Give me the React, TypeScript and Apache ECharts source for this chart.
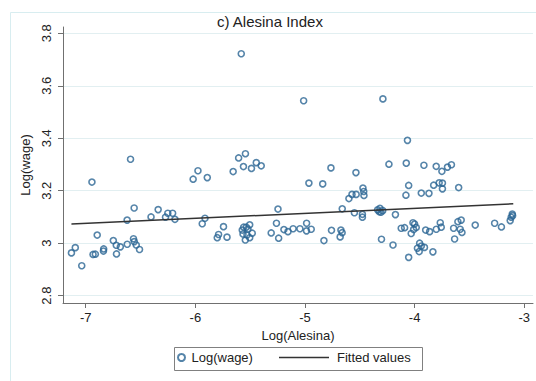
import React, { useEffect, useRef } from "react";
import * as echarts from "echarts";

const logAlesina = [
  -7.130, -7.095, -7.036, -6.943, -6.933, -6.912, -6.895, -6.838, -6.836, -6.748,
  -6.721, -6.719, -6.684, -6.621, -6.622, -6.591, -6.564, -6.557, -6.558, -6.539,
  -6.509, -6.404, -6.339, -6.272, -6.251, -6.207, -6.186, -6.020, -5.976, -5.891,
  -5.937, -5.912, -5.800, -5.788, -5.743, -5.711, -5.655, -5.605, -5.543, -5.561,
  -5.488, -5.444, -5.399, -5.581, -5.559, -5.535, -5.504, -5.520, -5.565, -5.529,
  -5.481, -5.544, -5.504, -5.572, -5.246, -5.260, -5.308, -5.240, -5.192, -5.155,
  -5.108, -5.046, -5.012, -4.985, -4.986, -4.943, -4.964, -4.838, -4.827, -4.763,
  -4.758, -4.672, -4.661, -4.679, -4.660, -4.599, -4.571, -4.533, -4.535, -4.471,
  -4.464, -4.462, -4.549, -4.476, -4.476, -4.337, -4.316, -4.291, -4.307, -4.322,
  -4.289, -4.302, -4.197, -4.175, -4.234, -4.076, -4.065, -4.054, -4.079, -3.939,
  -3.869, -3.915, -3.826, -3.776, -3.746, -3.746, -3.803, -3.751, -3.700, -3.664,
  -3.598, -4.122, -4.091, -4.015, -4.000, -3.985, -4.009, -4.031, -3.899, -3.863,
  -3.802, -3.766, -3.757, -3.644, -3.605, -3.575, -3.584, -3.568, -3.635, -3.954,
  -3.939, -3.910, -3.974, -3.958, -3.833, -4.054, -3.447, -3.270, -3.208, -3.109,
  -3.119, -3.128, -3.106,
];

const logWage = [
  2.963, 2.983, 2.914, 3.233, 2.957, 2.958, 3.031, 2.970, 2.978, 3.010,
  2.992, 2.959, 2.986, 2.996, 3.088, 3.320, 3.017, 3.006, 3.134, 2.993,
  2.976, 3.100, 3.128, 3.099, 3.114, 3.114, 3.091, 3.244, 3.276, 3.250,
  3.074, 3.095, 3.021, 3.033, 3.063, 3.023, 3.273, 3.325, 3.341, 3.292,
  3.285, 3.307, 3.295, 3.722, 3.061, 3.061, 3.070, 3.054, 3.035, 3.031,
  3.038, 3.012, 3.021, 3.050, 3.130, 3.076, 3.039, 3.019, 3.052, 3.044,
  3.055, 3.055, 3.543, 3.076, 3.047, 3.053, 3.229, 3.226, 3.010, 3.287,
  3.049, 3.050, 3.040, 3.024, 3.131, 3.170, 3.186, 3.186, 3.269, 3.210,
  3.197, 3.182, 3.116, 3.110, 3.099, 3.127, 3.133, 3.124, 3.118, 3.120,
  3.550, 3.015, 2.993, 3.109, 3.301, 3.305, 3.392, 3.220, 3.183, 3.191,
  3.190, 3.297, 3.221, 3.230, 3.229, 3.207, 3.293, 3.274, 3.290, 3.299,
  3.212, 3.057, 3.059, 3.078, 3.073, 3.060, 3.052, 3.037, 3.050, 3.044,
  3.053, 3.078, 3.061, 3.057, 3.082, 3.088, 3.053, 3.041, 3.016, 3.000,
  2.989, 2.984, 2.981, 2.968, 2.967, 2.946, 3.069, 3.076, 3.062, 3.111,
  3.099, 3.086, 3.105,
];

const fittedX = [-7.13, -3.1];
const fittedY = [3.073, 3.15];

const xTicks = [-7, -6, -5, -4, -3];
const yTicks = [2.8, 3, 3.2, 3.4, 3.6, 3.8];

const FONT = "'Liberation Sans', Arial, sans-serif";
const TXT = "#222";

export default function App() {
  const ref = useRef<HTMLDivElement>(null);
  useEffect(() => {
    const chart = echarts.init(ref.current!, null, { renderer: "svg" });
    const scatterData = logAlesina.map((x, i) => [x, logWage[i]]);
    const fitData = fittedX.map((x, i) => [x, fittedY[i]]);
    chart.setOption({
      animation: false,
      backgroundColor: "#fff",
      textStyle: { fontFamily: FONT },
      title: {
        text: "c) Alesina Index",
        left: 217,
        top: 14,
        padding: 0,
        textStyle: { fontFamily: FONT, fontSize: 15, fontWeight: "normal", color: TXT },
      },
      graphic: [
        {
          type: "rect",
          shape: { x: 10.5, y: 12.5, width: 540, height: 400 },
          style: { fill: "none", stroke: "#d8edf0", lineWidth: 1 },
          silent: true,
        },
        {
          type: "rect",
          shape: { x: 174.5, y: 347.5, width: 248, height: 23 },
          style: { fill: "none", stroke: "#808080", lineWidth: 1 },
          silent: true,
        },
      ],
      legend: [
        {
          data: [{ name: "Log(wage)" }],
          left: 177,
          top: 351,
          padding: 0,
          itemWidth: 10,
          itemHeight: 7,
          textStyle: { fontFamily: FONT, fontSize: 13, color: TXT },
        },
        {
          data: [
            {
              name: "Fitted values",
              icon: "rect",
              itemStyle: { color: "#333", borderWidth: 0 },
            },
          ],
          left: 279,
          top: 351,
          padding: 0,
          itemWidth: 50,
          itemHeight: 1.6,
          textStyle: { fontFamily: FONT, fontSize: 13, color: TXT, padding: [0, 0, 0, 3] },
        },
      ],
      grid: { left: 63, top: 27, width: 470, height: 276, containLabel: false },
      xAxis: {
        type: "value",
        min: -7.207,
        max: -2.92,
        name: "Log(Alesina)",
        nameLocation: "middle",
        nameGap: 22,
        nameTextStyle: { fontFamily: FONT, fontSize: 13, color: TXT },
        axisLine: { show: true, onZero: false, lineStyle: { color: "#707070", width: 1 } },
        axisTick: {
          show: true,
          length: 5,
          customValues: xTicks,
          lineStyle: { color: "#707070" },
        },
        axisLabel: {
          customValues: xTicks,
          margin: 8,
          fontFamily: FONT,
          fontSize: 13,
          color: TXT,
          formatter: (v: number) => String(v),
        },
        splitLine: { show: false },
      },
      yAxis: {
        type: "value",
        min: 2.772,
        max: 3.824,
        name: "Log(wage)",
        nameLocation: "middle",
        nameGap: 24,
        nameRotate: 90,
        nameTextStyle: { fontFamily: FONT, fontSize: 13, color: TXT },
        axisLine: { show: true, onZero: false, lineStyle: { color: "#707070", width: 1 } },
        axisTick: {
          show: true,
          length: 5,
          customValues: yTicks,
          lineStyle: { color: "#707070" },
        },
        axisLabel: {
          customValues: yTicks,
          rotate: 90,
          margin: 10,
          fontFamily: FONT,
          fontSize: 13,
          color: TXT,
          formatter: (v: number) => String(Math.round(v * 10) / 10),
        },
        splitLine: { show: true, lineStyle: { color: "#e2eff1", width: 1 } },
      },
      series: [
        {
          name: "Log(wage)",
          type: "scatter",
          data: scatterData,
          symbol: "circle",
          symbolSize: 6,
          itemStyle: { color: "rgba(0,0,0,0)", borderColor: "#2a6594", borderWidth: 1.6 },
          clip: false,
        },
        {
          name: "Fitted values",
          type: "line",
          data: fitData,
          symbol: "none",
          lineStyle: { color: "#333", width: 1.5 },
          itemStyle: { color: "#333" },
          clip: false,
        },
      ],
    });
    return () => chart.dispose();
  }, []);
  return (
    <div
      ref={ref}
      style={{ position: "absolute", left: 0, top: 0, width: 536, height: 381, background: "#fff" }}
    />
  );
}
